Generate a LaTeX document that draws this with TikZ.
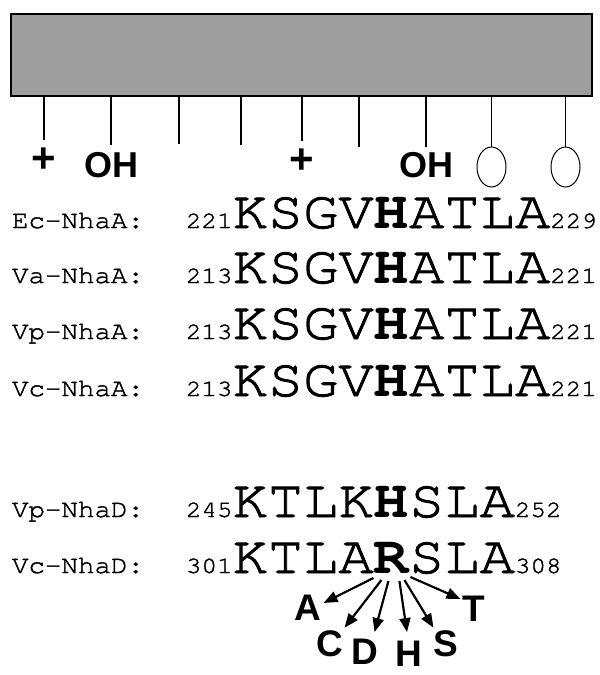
\documentclass[tikz,border=0pt]{standalone}
\usepackage{fontspec}
\usetikzlibrary{arrows.meta,shapes.geometric}
\newfontfamily\seqfont[FakeStretch=1.1, FakeBold=1.6]{TeX Gyre Cursor}
\newfontfamily\seqbold[FakeStretch=1.1, UprightFont={* Bold}]{TeX Gyre Cursor}
\newfontfamily\sansbold{Liberation Sans}
\newcommand\bigres{\fontsize{53.5}{55}\selectfont}
\newcommand\resnum{\fontsize{23.5}{24}\selectfont}
\newcommand\labsize{\fontsize{25}{26}\selectfont}
\newcommand\keyres[1]{{\seqbold\bigres #1}}
\tikzset{
  seq/.style={inner sep=0pt, outer sep=0pt, anchor=base west, font=\seqfont},
  lab/.style={inner sep=0pt, outer sep=0pt, anchor=base west, font=\seqfont\labsize},
  sidelab/.style={inner sep=0pt, font=\sansbold\bfseries\fontsize{36}{36}\selectfont},
  charge/.style={inner sep=0pt, font=\sansbold\bfseries\fontsize{42}{42}\selectfont},
  mut/.style={inner sep=0pt, font=\sansbold\bfseries\fontsize{37}{37}\selectfont},
  sugar/.style={draw, ellipse, line width=1pt, minimum width=29pt, minimum height=40pt, inner sep=0pt},
  tick/.style={line width=1.1pt},
  mutarrow/.style={line width=2.2pt, -{Triangle[length=14pt,width=11pt]}}
}
\begin{document}
\begin{tikzpicture}[x=1pt,y=-1pt]
\useasboundingbox (0,0) rectangle (600,675);

% membrane segment
\node[draw, line width=1.2pt, fill=black!38, minimum width=581pt, minimum height=82pt, inner sep=0pt] (bar) at (301.5,55) {};

% side-chain labels under the segment
\node[charge] (p1) at (44,160) {+};
\node[sidelab] (oh1) at (111,165.5) {OH};
\node[charge] (p2) at (302,161) {+};
\node[sidelab] (oh2) at (426,165.5) {OH};
\node[sugar] (s1) at (491.5,167) {};
\node[sugar] (s2) at (565.5,167) {};
\coordinate (t3) at (179,144);
\coordinate (t4) at (241,145);
\coordinate (t6) at (359,147);

\draw[tick] (p1.north |- bar.south) -- ([yshift=7pt]p1.north);
\draw[tick] (oh1.north |- bar.south) -- ([yshift=8pt]oh1.north);
\draw[tick] (t3 |- bar.south) -- (t3);
\draw[tick] (t4 |- bar.south) -- (t4);
\draw[tick] (p2.north |- bar.south) -- ([yshift=7pt]p2.north);
\draw[tick] (t6 |- bar.south) -- (t6);
\draw[tick] (oh2.north |- bar.south) -- ([yshift=6pt]oh2.north);
\draw[tick] (s1.north |- bar.south) -- (s1.north);
\draw[tick] (s2.north |- bar.south) -- (s2.north);

% NhaA sequences
\node[lab] (l1) at (12,228) {Ec-NhaA:};
\node[seq] (q1) at (186,228) {\resnum 221\bigres KSGV\keyres{H}ATLA\resnum 229};
\node[lab] (l2) at (12,283) {Va-NhaA:};
\node[seq] (q2) at (186,283) {\resnum 213\bigres KSGV\keyres{H}ATLA\resnum 221};
\node[lab] (l3) at (12,339) {Vp-NhaA:};
\node[seq] (q3) at (186,339) {\resnum 213\bigres KSGV\keyres{H}ATLA\resnum 221};
\node[lab] (l4) at (12,396) {Vc-NhaA:};
\node[seq] (q4) at (186,396) {\resnum 213\bigres KSGV\keyres{H}ATLA\resnum 221};

% NhaD sequences
\node[lab] (l5) at (12,517) {Vp-NhaD:};
\node[seq] (q5) at (186,517) {\resnum 245\bigres KTLK\keyres{H}SLA\resnum 252};
\node[lab] (l6) at (12,573) {Vc-NhaD:};
\node[seq] (q6a) at (186,573) {\resnum 301\bigres KTLA};
\node[seq] (r) at (q6a.base east) {\keyres{R}};
\node[seq] (q6b) at (r.base east) {\bigres SLA\resnum 308};

% replacements of the arginine
\node[mut] (ma) at (308,608) {A};
\node[mut] (mc) at (330,644) {C};
\node[mut] (md) at (365,652) {D};
\node[mut] (mh) at (409,654) {H};
\node[mut] (ms) at (446,644) {S};
\node[mut] (mt) at (474,609) {T};

\draw[mutarrow] ([shift={(-18,5)}]r.south) -- ([shift={(2,-5)}]ma.east);
\draw[mutarrow] ([shift={(-10,7)}]r.south) -- ([shift={(1,-3)}]mc.north east);
\draw[mutarrow] ([shift={(-3,8)}]r.south) -- ([shift={(-4,-7)}]md.north east);
\draw[mutarrow] ([shift={(8,8)}]r.south) -- ([shift={(-2,-9)}]mh.north);
\draw[mutarrow] ([shift={(13,7)}]r.south) -- ([shift={(0,-3)}]ms.north west);
\draw[mutarrow] ([shift={(19,4)}]r.south) -- ([shift={(-2,-10)}]mt.west);
\end{tikzpicture}
\end{document}
